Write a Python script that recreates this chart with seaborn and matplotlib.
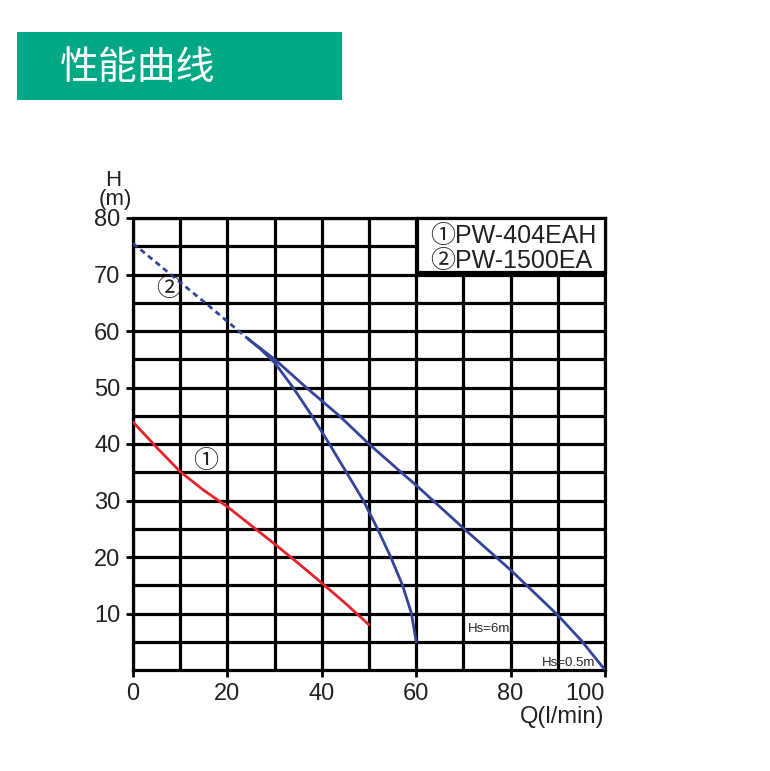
import matplotlib
matplotlib.use('Agg')
import matplotlib.pyplot as plt
from matplotlib.patches import Rectangle
import numpy as np
import seaborn as sns

# 曲线数据 (Q: l/min, H: m)
q_404 = [0, 5, 10, 15, 20, 25, 30, 35, 40, 45, 50]
h_404 = [43.9, 39.4, 35.1, 31.8, 28.9, 25.6, 22.3, 18.9, 15.4, 11.8, 8.0]

q_1500_dash = [0, 8, 16, 24.4]
h_1500_dash = [75.5, 70.0, 64.5, 58.6]

q_1500_hs6 = [24.4, 27, 30, 33.9, 37.9, 41.6, 45.2, 48.8, 51.8, 54.6, 57.1, 59.0, 60]
h_1500_hs6 = [58.6, 56.8, 54.4, 50, 45, 40, 35, 30, 25, 20, 15, 10, 5]

q_1500_hs05 = [24.4, 30, 36.7, 43.7, 50, 56.8, 60, 70, 80, 90, 95, 100]
h_1500_hs05 = [58.6, 55.0, 50, 45, 40, 35, 32.7, 25.1, 17.7, 9.7, 5.2, 0.0]

x_ticks = [0, 20, 40, 60, 80, 100]
y_ticks = [10, 20, 30, 40, 50, 60, 70, 80]
legend_labels = ['①PW-404EAH', '②PW-1500EA']

sns.set_style('white')
plt.rcParams['font.family'] = ['Liberation Sans', 'Noto Sans CJK SC', 'DejaVu Sans']

fig = plt.figure(figsize=(7.7, 7.71), dpi=100)

# 标题色块
fig.patches.append(Rectangle((17 / 770, 1 - 100 / 771), 325 / 770, 68 / 771,
                             transform=fig.transFigure, facecolor='#00a885',
                             edgecolor='none'))
fig.text(60 / 770, 1 - 68 / 771, '性能曲线', color='white', fontsize=28,
         va='center', ha='left', family=['Noto Sans CJK SC', 'DejaVu Sans'])

ax = fig.add_axes([133 / 770, 1 - 670 / 771, 472 / 770, 452 / 771])

red = '#e3242b'
blue = '#34449a'
sns.lineplot(x=q_404, y=h_404, ax=ax, color=red, linewidth=2, zorder=3)
sns.lineplot(x=q_1500_dash, y=h_1500_dash, ax=ax, color=blue, linewidth=2,
             linestyle=(0, (2, 1.5)), zorder=3)
sns.lineplot(x=q_1500_hs6, y=h_1500_hs6, ax=ax, color=blue, linewidth=2, zorder=3)
sns.lineplot(x=q_1500_hs05, y=h_1500_hs05, ax=ax, color=blue, linewidth=2, zorder=3)

ax.set_xlim(0, 100)
ax.set_ylim(0, 80)
ax.set_xticks(x_ticks)
ax.set_xticks(np.arange(10, 100, 20), minor=True)
ax.set_yticks(y_ticks)
ax.set_yticks(np.arange(5, 80, 10), minor=True)
ax.set_xticklabels([str(v) for v in x_ticks])
ax.grid(True, which='both', color='black', linewidth=2.3)
ax.tick_params(which='major', direction='out', length=5, width=2, color='black',
               labelsize=17, pad=4, bottom=True, left=True, labelcolor='#222222')
ax.tick_params(which='minor', length=0)
for s in ax.spines.values():
    s.set_linewidth(2.3)
    s.set_color('black')
ax.get_xticklabels()[-1].set_horizontalalignment('right')

# 图例框
ax.add_patch(Rectangle((0.6017, 0.8805), 0.3983, 0.1195, transform=ax.transAxes,
                       facecolor='white', edgecolor='black', linewidth=2.3,
                       zorder=4, clip_on=False))
ax.text(0.63, 0.961, legend_labels[0], transform=ax.transAxes, fontsize=18,
        va='center', ha='left', zorder=5, color='#222222')
ax.text(0.63, 0.905, legend_labels[1], transform=ax.transAxes, fontsize=18,
        va='center', ha='left', zorder=5, color='#222222')

# 曲线标注
ax.text(7.5, 67.5, '②', fontsize=18, ha='center', va='center', zorder=5, color='#222222')
ax.text(15.3, 37.0, '①', fontsize=18, ha='center', va='center', zorder=5, color='#222222')
ax.text(70.9, 7.2, 'Hs=6m', fontsize=9.5, ha='left', va='center', zorder=5)
ax.text(98.0, 1.3, 'Hs=0.5m', fontsize=9.5, ha='right', va='center', zorder=5)

# 坐标轴名称
fig.text(113 / 770, 1 - 180 / 771, 'H', fontsize=16, ha='center', va='center', color='#222222')
fig.text(115 / 770, 1 - 199 / 771, '(m)', fontsize=16, ha='center', va='center', color='#222222')
fig.text(604 / 770, 1 - 717 / 771, 'Q(l/min)', fontsize=17, ha='right', va='center', color='#222222')

fig.savefig('out.png', dpi=100)
